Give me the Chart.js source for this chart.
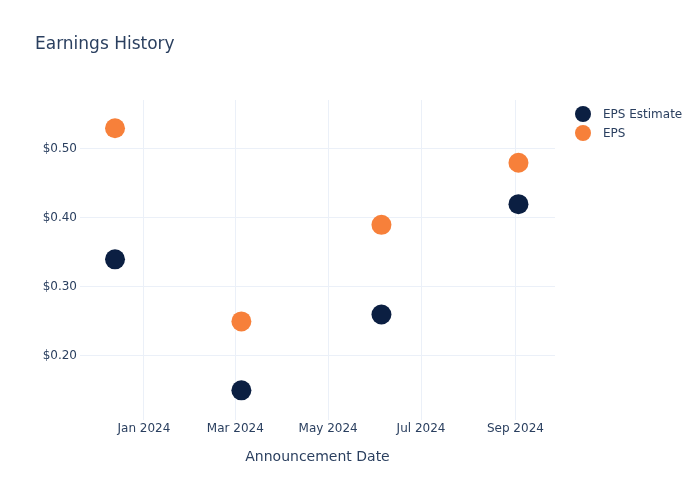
<!DOCTYPE html>
<html>
<head>
<meta charset="utf-8">
<script src="https://cdn.jsdelivr.net/npm/chart.js@4.4.0/dist/chart.umd.min.js"></script>
<style>
  html, body { margin: 0; padding: 0; background: #fff; }
  #wrap { width: 700px; height: 500px; }
</style>
</head>
<body>
<div id="wrap"><canvas id="epsChart" width="700" height="500"></canvas></div>
<script>
// --- Data ---
const announceDates = ['2023-12-13', '2024-03-05', '2024-06-05', '2024-09-03'];
const epsEstimate = [0.34, 0.15, 0.26, 0.42];
const epsActual = [0.53, 0.25, 0.39, 0.48];

const xTickDates = ['2024-01-01', '2024-03-01', '2024-05-01', '2024-07-01', '2024-09-01'];
const xTickLabels = ['Jan 2024', 'Mar 2024', 'May 2024', 'Jul 2024', 'Sep 2024'];
const yTickValues = [0.2, 0.3, 0.4, 0.5];

const xRange = ['2023-11-20', '2024-09-27'];
const yRange = [0.107, 0.571];

const toTime = d => Date.parse(d + 'T00:00:00Z');
const textColor = '#2a3f5f';
const gridColor = '#ebf0f8';
const fontFamily = '"DejaVu Sans", "Open Sans", sans-serif';

// title and legend drawn plotly-style, outside the plot area
const decorPlugin = {
    id: 'plotDecor',
    afterDraw(chart) {
        const ctx = chart.ctx;
        ctx.save();
        ctx.fillStyle = textColor;
        ctx.font = '17px ' + fontFamily;
        ctx.textBaseline = 'middle';
        ctx.textAlign = 'left';
        ctx.fillText('Earnings History', 35, 45);

        // legend
        ctx.font = '12px ' + fontFamily;
        chart.data.datasets.forEach((ds, i) => {
            const cy = 114 + i * 19;
            ctx.beginPath();
            ctx.fillStyle = ds.backgroundColor;
            ctx.arc(583, cy, 8, 0, Math.PI * 2);
            ctx.fill();
            ctx.fillStyle = textColor;
            ctx.fillText(ds.label, 603, cy + 1);
        });
        ctx.restore();
    }
};

const ctx = document.getElementById('epsChart').getContext('2d');
new Chart(ctx, {
    type: 'scatter',
    data: {
        datasets: [
            {
                label: 'EPS Estimate',
                data: announceDates.map((d, i) => ({ x: toTime(d), y: epsEstimate[i] })),
                backgroundColor: '#0b1f42',
                borderWidth: 0,
                pointRadius: 10,
                pointHoverRadius: 10
            },
            {
                label: 'EPS',
                data: announceDates.map((d, i) => ({ x: toTime(d), y: epsActual[i] })),
                backgroundColor: '#f7803a',
                borderWidth: 0,
                pointRadius: 10,
                pointHoverRadius: 10
            }
        ]
    },
    options: {
        responsive: false,
        animation: false,
        layout: { padding: { top: 100, left: 0, right: 145, bottom: 30 } },
        plugins: {
            tooltip: { enabled: false },
            legend: { display: false }
        },
        scales: {
            x: {
                type: 'linear',
                min: toTime(xRange[0]),
                max: toTime(xRange[1]),
                afterBuildTicks: scale => {
                    scale.ticks = xTickDates.map(d => ({ value: toTime(d) }));
                },
                afterFit: scale => { scale.height = 50; },
                ticks: {
                    color: textColor,
                    padding: 2,
                    maxRotation: 0,
                    font: { family: fontFamily, size: 12 },
                    callback: value => xTickLabels[xTickDates.map(toTime).indexOf(value)]
                },
                grid: { color: gridColor, drawTicks: false },
                border: { display: false },
                title: {
                    display: true,
                    text: 'Announcement Date',
                    color: textColor,
                    font: { family: fontFamily, size: 14 },
                    padding: { top: 12 }
                }
            },
            y: {
                min: yRange[0],
                max: yRange[1],
                afterBuildTicks: scale => {
                    scale.ticks = yTickValues.map(v => ({ value: v }));
                },
                afterFit: scale => { scale.width = 80; },
                ticks: {
                    color: textColor,
                    padding: 3,
                    font: { family: fontFamily, size: 12 },
                    callback: value => '$' + value.toFixed(2)
                },
                grid: { color: gridColor, drawTicks: false },
                border: { display: false }
            }
        }
    },
    plugins: [decorPlugin]
});
</script>
</body>
</html>
